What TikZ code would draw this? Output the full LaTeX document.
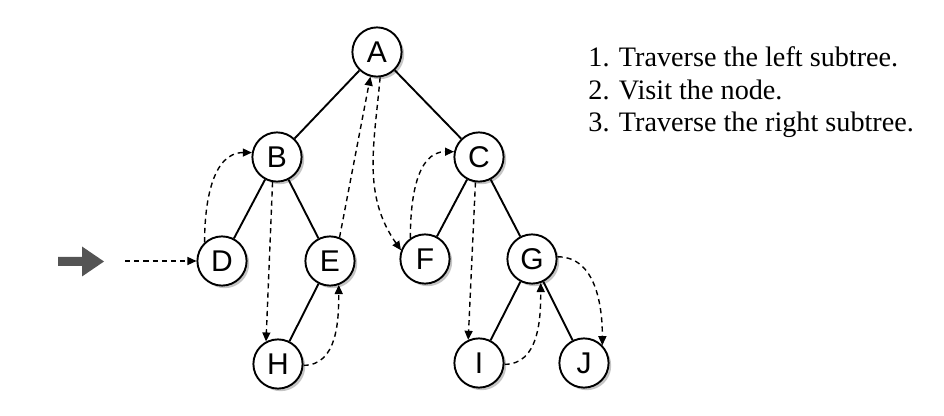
\documentclass[tikz,border=0pt]{standalone}
\usepackage{fontspec}
\setmainfont{Liberation Serif}
\setsansfont{Liberation Sans}
\usetikzlibrary{arrows.meta,positioning,shadows}

\begin{document}
\begin{tikzpicture}[
    x=0.5pt, y=-0.5pt,
    on grid,
    vert/.style={circle, draw, line width=0.95pt, fill=white, minimum size=24.6pt, inner sep=0pt,
        font=\sffamily\fontsize{15}{15}\selectfont,
        drop shadow={shadow xshift=1.3pt, shadow yshift=-1.3pt, fill=black!45}},
    link/.style={line width=0.95pt},
    trav/.style={-{Triangle[length=4.5pt, width=4pt]}, dash pattern=on 2.6pt off 2pt, line width=0.7pt},
    pointer/.style={fill=black!67},
    steplist/.style={anchor=base west, align=left, inner sep=0pt, font=\fontsize{14.1}{16.25}\selectfont}
]
    \useasboundingbox (0,0) rectangle (944,416);

    \node[vert] (A) at (377,52) {A};
    \node[vert, below left=52.5pt and 50pt of A] (B) {B};
    \node[vert, below right=52.5pt and 51pt of A] (C) {C};
    \node[vert, below left=52pt and 27.5pt of B] (D) {D};
    \node[vert, below right=52pt and 26.5pt of B] (E) {E};
    \node[vert, below left=51pt and 27pt of C] (F) {F};
    \node[vert, below right=51pt and 26.5pt of C] (G) {G};
    \node[vert, below left=51.5pt and 26pt of E] (H) {H};
    \node[vert, below left=52pt and 26.5pt of G] (I) {I};
    \node[vert, below right=52pt and 26pt of G] (J) {J};

    \node[steplist] (steps) at (588,132) {1. Traverse the left subtree.\\2. Visit the node.\\3. Traverse the right subtree.};

    \draw[link] (A) -- (B);
    \draw[link] (A) -- (C);
    \draw[link] (B) -- (D);
    \draw[link] (B) -- (E);
    \draw[link] (C) -- (F);
    \draw[link] (C) -- (G);
    \draw[link] (E) -- (H);
    \draw[link] (G) -- (I);
    \draw[link] (G) -- (J);

    \fill[pointer] (58,257) -- (82,257) -- (82,246.5) -- (104,261.5) -- (82,276.5) -- (82,266) -- (58,266) -- cycle;
    \coordinate (entry) at (125,261);

    \draw[trav] (entry) -- (D);
    \draw[trav] (D.133) to[out=90, in=180] (B.170);
    \draw[trav] (B.-100) -- (H.118);
    \draw[trav] (H.-3) to[out=0, in=-90] (E.-70);
    \draw[trav] (E.68) -- (A.-105);
    \draw[trav] (A.-83) to[out=-95, in=125] (F.160);
    \draw[trav] (F.125) to[out=90, in=180] (C.168);
    \draw[trav] (C.-98) -- (I.115);
    \draw[trav] (I.-3) to[out=0, in=-90] (G.-70);
    \draw[trav] (G.5) to[out=0, in=90] (J.44);
\end{tikzpicture}
\end{document}
